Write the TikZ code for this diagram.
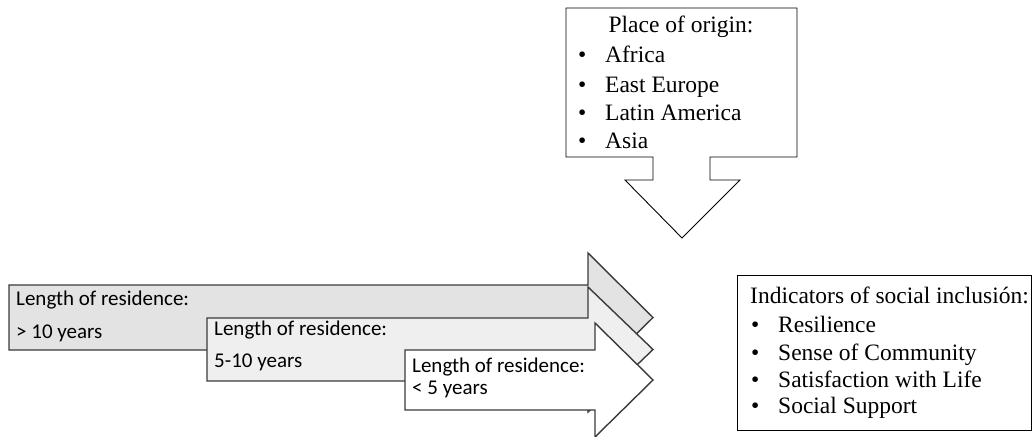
\documentclass[tikz,border=0pt]{standalone}
\usepackage{fontspec}
\setmainfont{Liberation Serif}
\newfontfamily\calib{Carlito}
\newcommand{\bul}[1]{\makebox[27pt][l]{\textbullet}#1}
\definecolor{darkfill}{HTML}{E3E3E3}
\definecolor{lightfill}{HTML}{EFEFEF}
\definecolor{edgegray}{HTML}{3A3A3A}

\begin{document}
\begin{tikzpicture}[x=1pt,y=-1pt,
  BlockArrow/.style={draw=edgegray,line width=1.4pt,line join=miter},
  ArrowText/.style={anchor=base west,inner sep=0pt,font=\calib\fontsize{21}{25}\selectfont},
  ListText/.style={anchor=base west,inner sep=0pt,font=\fontsize{23.5}{28}\selectfont},
  Frame/.style={draw=black,line width=0.9pt}]
	\useasboundingbox (0,0) rectangle (1032,436);
	% place of origin callout
	\draw[Frame,fill=white] (566,8) -- (797,8) -- (797,157) -- (710,157) -- (710,180)
	  -- (740,180) -- (682,238) -- (625,180) -- (653,180) -- (653,157) -- (566,157) -- cycle;
	\node[ListText,anchor=base] (origin) at (681,33) {Place of origin:};
	\node[ListText] (africa) at (578,63) {\bul{Africa}};
	\node[ListText] (europe) at (578,92) {\bul{East Europe}};
	\node[ListText] (latam) at (578,120) {\bul{Latin America}};
	\node[ListText] (asia) at (578,148) {\bul{Asia}};
	% length of residence arrows
	\draw[BlockArrow,fill=darkfill] (9,285) -- (588,285) -- (588,253) -- (653,317.5)
	  -- (588,382) -- (588,350) -- (9,350) -- cycle;
	\node[ArrowText] (longA) at (16,305) {Length of residence:};
	\node[ArrowText] (longB) at (16,338) {> 10 years};
	\draw[BlockArrow,fill=lightfill] (207,318) -- (588,318) -- (588,287) -- (653,349.5)
	  -- (588,412) -- (588,381) -- (207,381) -- cycle;
	\node[ArrowText] (midA) at (214,335) {Length of residence:};
	\node[ArrowText] (midB) at (214,367) {5-10 years};
	\draw[BlockArrow,fill=white] (405,350) -- (595,350) -- (595,323) -- (653,380)
	  -- (595,437) -- (595,410) -- (405,410) -- cycle;
	\node[ArrowText] (shortA) at (412,372) {Length of residence:};
	\node[ArrowText] (shortB) at (412,394) {< 5 years};
	% indicators box
	\draw[Frame] (737,275) rectangle (1031,430);
	\node[ListText] (indic) at (750,303) {Indicators of social inclusión:};
	\node[ListText] (resil) at (751,332) {\bul{Resilience}};
	\node[ListText] (sense) at (751,360) {\bul{Sense of Community}};
	\node[ListText] (satis) at (751,387) {\bul{Satisfaction with Life}};
	\node[ListText] (suppo) at (751,413) {\bul{Social Support}};
\end{tikzpicture}
\end{document}
